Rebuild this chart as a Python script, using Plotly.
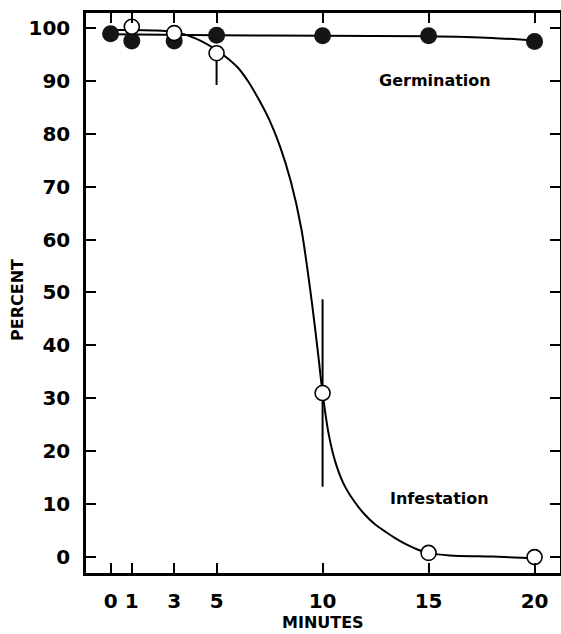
import plotly.graph_objects as go

# Observed points
minutes_germ = [0, 1, 3, 5, 10, 15, 20]
germination = [98.9, 97.5, 97.5, 98.6, 98.5, 98.5, 97.4]

minutes_inf = [1, 3, 5, 10, 15, 20]
infestation = [100.2, 99.0, 95.2, 31.0, 0.8, 0.0]
infestation_err_plus = [0, 0, 0, 17.7, 0, 0]
infestation_err_minus = [0, 0, 6.0, 17.7, 0, 0]

# Hand-fitted curves
germ_curve_x = [0, 5, 10, 15, 18, 20]
germ_curve_y = [98.8, 98.6, 98.5, 98.4, 98.1, 97.6]

inf_curve_x = [0, 1, 2, 3, 4, 5, 5.5, 6, 6.5, 7, 7.5, 8, 8.5, 9, 9.5, 9.8, 10,
               10.3, 10.6, 11, 11.5, 12, 12.5, 13, 13.5, 14, 14.5, 15, 16, 18, 20]
inf_curve_y = [99.6, 99.6, 99.5, 99.2, 98.0, 95.8, 94.3, 92.5, 89.8, 86.4, 82.5, 77.5, 71.0, 62.0, 48.0, 38.0, 31.0,
               23.0, 18.0, 13.8, 10.5, 8.0, 6.1, 4.7, 3.4, 2.3, 1.4, 0.8, 0.3, 0.1, -0.2]

x_ticks = [0, 1, 3, 5, 10, 15, 20]
y_ticks = list(range(0, 101, 10))

FONT = "DejaVu Sans"

fig = go.Figure()

fig.add_trace(go.Scatter(x=inf_curve_x, y=inf_curve_y, mode="lines",
                         line=dict(color="black", width=2, shape="spline", smoothing=0.7),
                         hoverinfo="skip", showlegend=False))
fig.add_trace(go.Scatter(x=germ_curve_x, y=germ_curve_y, mode="lines",
                         line=dict(color="black", width=2, shape="spline", smoothing=0.8),
                         hoverinfo="skip", showlegend=False))
fig.add_trace(go.Scatter(x=minutes_germ, y=germination, mode="markers",
                         marker=dict(color="#151515", size=17, line=dict(width=0)),
                         name="Germination", showlegend=False))
fig.add_trace(go.Scatter(x=minutes_inf, y=infestation, mode="markers",
                         marker=dict(color="white", size=15, line=dict(color="black", width=1.6)),
                         error_y=dict(type="data", symmetric=False, array=infestation_err_plus,
                                      arrayminus=infestation_err_minus, visible=True,
                                      color="black", thickness=2, width=0),
                         name="Infestation", showlegend=False))

fig.add_annotation(x=15.3, y=90, text="<b>Germination</b>", showarrow=False,
                   font=dict(family=FONT, size=16, color="black"))
fig.add_annotation(x=15.5, y=11, text="<b>Infestation</b>", showarrow=False,
                   font=dict(family=FONT, size=16, color="black"))

# Axis titles
fig.add_annotation(xref="paper", yref="paper", x=0.5, y=0, yshift=-49, yanchor="middle",
                   text="<b>MINUTES</b>", showarrow=False,
                   font=dict(family=FONT, size=16, color="black"))
fig.add_annotation(xref="paper", yref="paper", x=0, y=0.5, xshift=-69, yshift=-7,
                   xanchor="center", yanchor="middle", textangle=-90,
                   text="<b>PERCENT</b>", showarrow=False,
                   font=dict(family=FONT, size=16, color="black"))

axis_common = dict(showline=True, linecolor="black", linewidth=2.5, mirror="ticks",
                   ticks="inside", ticklen=10, tickwidth=2, tickcolor="black",
                   showgrid=False, zeroline=False, automargin=False,
                   tickfont=dict(family=FONT, size=20, color="black", weight="bold"))

fig.update_xaxes(range=[-1.16, 21.2], tickvals=x_ticks, ticktext=[str(v) for v in x_ticks],
                 ticklabelstandoff=8, **axis_common)
fig.update_yaxes(range=[-3.0, 102.8], tickvals=y_ticks, ticktext=[str(v) for v in y_ticks],
                 ticklabelstandoff=9, **axis_common)

fig.update_layout(width=561, height=634, margin=dict(l=86, r=1, t=13, b=61),
                  paper_bgcolor="white", plot_bgcolor="white", showlegend=False)

fig.write_html("out.html", config={"displayModeBar": False},
               post_script="document.body.style.margin='0';")
